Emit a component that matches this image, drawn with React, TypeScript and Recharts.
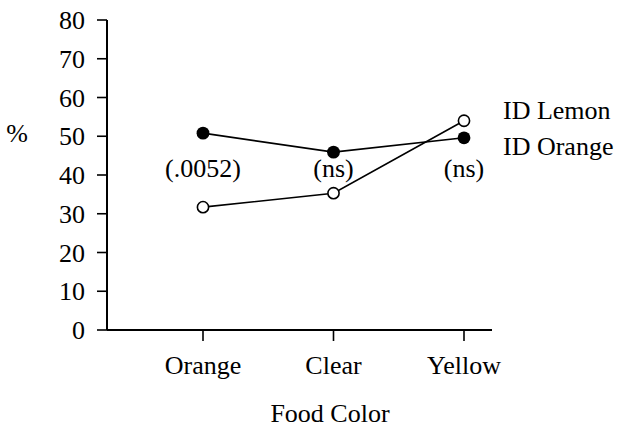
import React from 'react';
import { LineChart, Line, XAxis, YAxis, LabelList } from 'recharts';

// Werte
const categories = ['Orange', 'Clear', 'Yellow'];
const idLemon = [31.7, 35.3, 54.0];
const idOrange = [50.8, 45.9, 49.6];
const pValues = ['(.0052)', '(ns)', '(ns)'];
const yTicks = [0, 10, 20, 30, 40, 50, 60, 70, 80];
const seriesNames = ['ID Lemon', 'ID Orange'];

const FONT = '"Liberation Serif", "Times New Roman", serif';
const FONT_SIZE = 26;

const data = categories.map((c, i) => ({
  color: c,
  lemon: idLemon[i],
  orange: idOrange[i],
  p: pValues[i],
}));

const OpenDot = (props: any) => {
  const { cx, cy } = props;
  if (cx == null || cy == null) return null;
  return <circle cx={cx} cy={cy} r={5.6} fill="#fff" stroke="#000" strokeWidth={1.6} />;
};

const FilledDot = (props: any) => {
  const { cx, cy } = props;
  if (cx == null || cy == null) return null;
  return <circle cx={cx} cy={cy} r={6.4} fill="#000" stroke="none" />;
};

// p-Werte unterhalb der Punkte
const PLabel = (props: any) => {
  const { x, value } = props;
  return (
    <text x={x} y={177} textAnchor="middle" fontFamily={FONT} fontSize={FONT_SIZE} fill="#000">
      {value}
    </text>
  );
};

const App: React.FC = () => {
  return (
    <div style={{ position: 'absolute', left: 0, top: 0, width: 619, height: 427, background: '#fff' }}>
      <LineChart
        width={619}
        height={427}
        data={data}
        margin={{ top: 20, right: 127, left: 0, bottom: 0 }}
      >
        <XAxis
          dataKey="color"
          padding={{ left: 96, right: 28 }}
          height={97}
          tickSize={11}
          tickMargin={15}
          axisLine={{ stroke: '#000', strokeWidth: 2 }}
          tickLine={{ stroke: '#000', strokeWidth: 1.6 }}
          tick={{ fill: '#000', fontFamily: FONT, fontSize: FONT_SIZE }}
          label={{
            value: 'Food Color',
            content: () => (
              <text x={330} y={422} textAnchor="middle" fontFamily={FONT} fontSize={FONT_SIZE} fill="#000">
                Food Color
              </text>
            ),
          }}
        />
        <YAxis
          domain={[0, 80]}
          ticks={yTicks}
          width={107}
          tickSize={10}
          tickMargin={12}
          axisLine={{ stroke: '#000', strokeWidth: 2 }}
          tickLine={{ stroke: '#000', strokeWidth: 1.6 }}
          tick={{ fill: '#000', fontFamily: FONT, fontSize: FONT_SIZE }}
          label={{
            value: '%',
            content: () => (
              <text x={17} y={142} textAnchor="middle" fontFamily={FONT} fontSize={FONT_SIZE} fill="#000">
                %
              </text>
            ),
          }}
        />
        <Line
          dataKey="lemon"
          name={seriesNames[0]}
          type="linear"
          stroke="#000"
          strokeWidth={1.6}
          dot={<OpenDot />}
          activeDot={false}
          isAnimationActive={false}
        />
        <Line
          dataKey="orange"
          name={seriesNames[1]}
          type="linear"
          stroke="#000"
          strokeWidth={1.6}
          dot={<FilledDot />}
          activeDot={false}
          isAnimationActive={false}
        >
          <LabelList dataKey="p" content={<PLabel />} />
        </Line>
      </LineChart>
      <div
        style={{
          position: 'absolute',
          left: 503,
          top: 93,
          fontFamily: FONT,
          fontSize: FONT_SIZE,
          lineHeight: '36px',
          color: '#000',
          whiteSpace: 'nowrap',
        }}
      >
        {seriesNames.map((n) => (
          <div key={n}>{n}</div>
        ))}
      </div>
    </div>
  );
};

export default App;
